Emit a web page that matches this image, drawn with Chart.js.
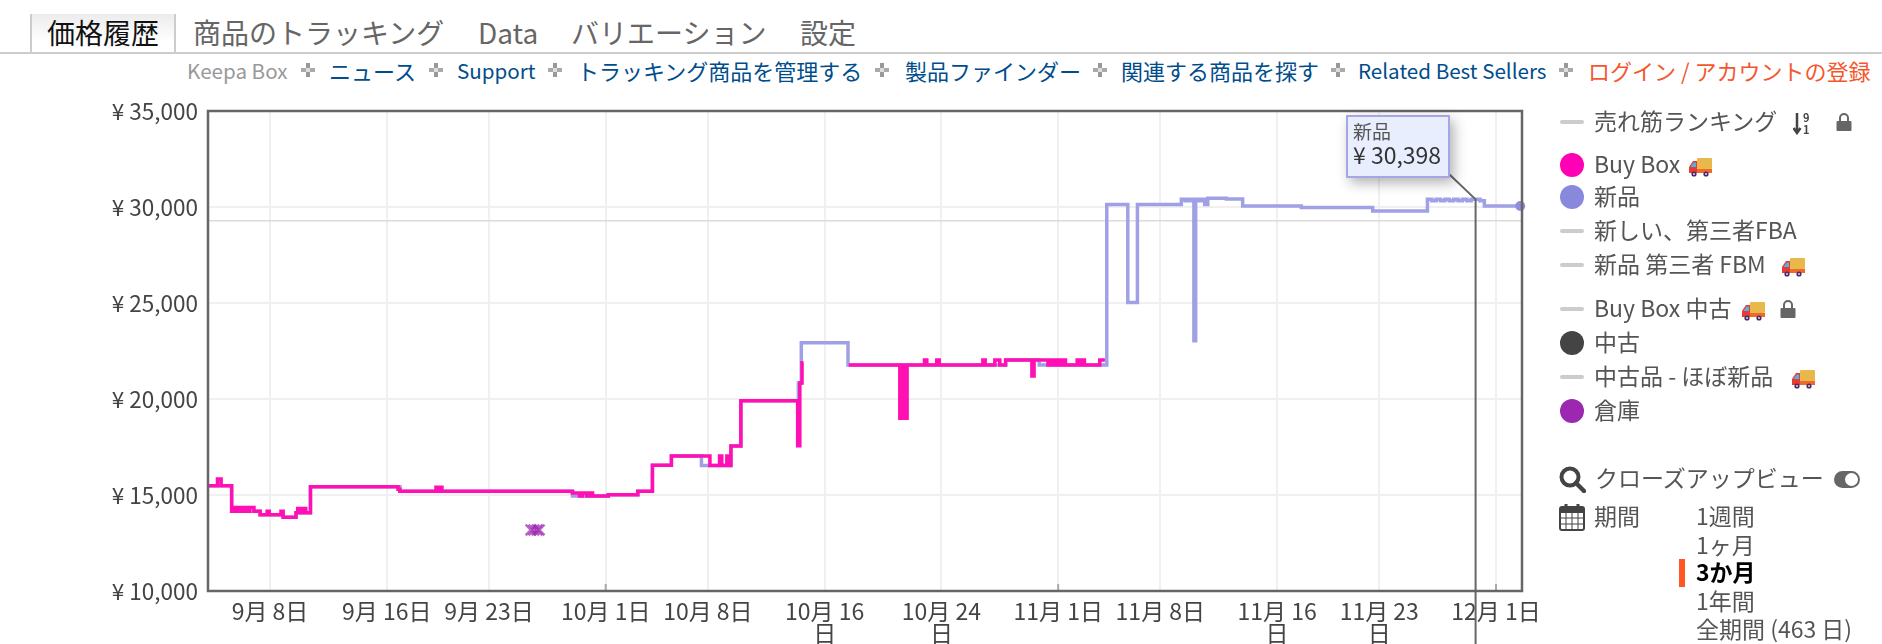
<!DOCTYPE html>
<html lang="ja">
<head>
<meta charset="utf-8">
<title>価格履歴</title>
<script src="https://cdn.jsdelivr.net/npm/chart.js@4"></script>
<style>
    html, body { margin: 0; padding: 0; background: #fff; overflow: hidden; }
    body { width: 1882px; height: 644px; position: relative; font-family: "Noto Sans CJK JP", "Noto Sans", sans-serif; color: #555; }
    canvas { position: absolute; left: 0; top: 0; }
    .t { position: absolute; transform: translateY(-50%); white-space: nowrap; line-height: 1.2; }
    .tab { font-size: 28px; color: #666; top: 33px; }
    .nav { font-size: 22px; color: #004d8c; top: 70px; }
    .latin { font-size: 20.6px; }
    .leg { font-size: 23px; color: #555; left: 1594px; }
    .per { font-size: 23px; color: #555; left: 1696px; }
    .line { position: absolute; background: #ccc; }
    .tabline { left: 0; right: 0; top: 52px; height: 2px; }
    .active { position: absolute; left: 30px; top: 14px; width: 146px; height: 40px; box-sizing: border-box;
        border: 2px solid #ccc; border-bottom: 0; border-top: 0; background: linear-gradient(#ececec, #fff 70%); }
    .dash { position: absolute; left: 1560px; width: 24px; height: 4px; background: #ccc; border-radius: 2px; }
    .dot { position: absolute; left: 1560px; width: 24px; height: 24px; border-radius: 50%; }
    .icon { position: absolute; }
    .tooltip { position: absolute; left: 1346px; top: 115px; width: 104px; height: 63px; box-sizing: border-box;
        background: #e8eefe; border: 2px solid #a6a6e6; box-shadow: 4px 5px 12px rgba(0,0,0,.3); }
    .toggle { position: absolute; left: 1834px; top: 471px; width: 26px; height: 17px; border-radius: 9px; background: #666; }
    .toggle i { position: absolute; right: 2px; top: 2px; width: 13px; height: 13px; border-radius: 50%; background: #fff; }
</style>
</head>
<body>
<svg width="0" height="0" style="position:absolute">
    <symbol id="sep" viewBox="0 0 14 14">
        <rect x="5" y="0" width="4" height="5" fill="#999"/><rect x="5" y="9" width="4" height="5" fill="#999"/>
        <rect x="0" y="5" width="5" height="4" fill="#aaa"/><rect x="9" y="5" width="5" height="4" fill="#aaa"/>
        <rect x="5" y="5" width="4" height="4" fill="#ddd"/>
    </symbol>
    <symbol id="truck" viewBox="0 0 24 20">
        <rect x="9" y="1" width="15" height="11" rx="1" fill="#e8b84a"/>
        <rect x="9" y="12" width="15" height="4" fill="#f0682c"/>
        <path d="M9 4H5L1 10v6h8z" fill="#e83a30"/>
        <path d="M8 5.500H5.500L2.500 10H8z" fill="#4db4ea"/>
        <circle cx="6" cy="17" r="2.600" fill="#4a2a6a"/><circle cx="18" cy="17" r="2.600" fill="#4a2a6a"/>
        <circle cx="6" cy="17" r="1" fill="#ddd"/><circle cx="18" cy="17" r="1" fill="#ddd"/>
    </symbol>
    <symbol id="lock" viewBox="0 0 16 18">
        <path d="M4 8V5a4 4 0 0 1 8 0v3" fill="none" stroke="#666" stroke-width="2"/>
        <rect x="0.500" y="8" width="15" height="10" rx="1" fill="#666"/>
    </symbol>
</svg>

<div class="active"></div>
<div class="line tabline"></div>
<span class="t tab" style="left:47px;color:#111">価格履歴</span>
<span class="t tab" style="left:193px">商品のトラッキング</span>
<span class="t tab" style="left:478px">Data</span>
<span class="t tab" style="left:571px">バリエーション</span>
<span class="t tab" style="left:800px">設定</span>

<span class="t nav latin" style="left:187px;color:#999">Keepa Box</span>
<svg class="icon" style="left:301px;top:63px" width="14" height="14"><use href="#sep"/></svg>
<span class="t nav" style="left:329px">ニュース</span>
<svg class="icon" style="left:429px;top:63px" width="14" height="14"><use href="#sep"/></svg>
<span class="t nav latin" style="left:457px">Support</span>
<svg class="icon" style="left:548px;top:63px" width="14" height="14"><use href="#sep"/></svg>
<span class="t nav" style="left:577px">トラッキング商品を管理する</span>
<svg class="icon" style="left:875px;top:63px" width="14" height="14"><use href="#sep"/></svg>
<span class="t nav" style="left:905px">製品ファインダー</span>
<svg class="icon" style="left:1093px;top:63px" width="14" height="14"><use href="#sep"/></svg>
<span class="t nav" style="left:1121px">関連する商品を探す</span>
<svg class="icon" style="left:1331px;top:63px" width="14" height="14"><use href="#sep"/></svg>
<span class="t nav latin" style="left:1358px">Related Best Sellers</span>
<svg class="icon" style="left:1559px;top:63px" width="14" height="14"><use href="#sep"/></svg>
<span class="t nav" style="left:1588px;color:#f4572e">ログイン / アカウントの登録</span>

<canvas id="chart" width="1882" height="644"></canvas>

<div class="tooltip"></div>
<span class="t" style="left:1353px;top:131px;font-size:19px;color:#555">新品</span>
<span class="t" style="left:1353px;top:155px;font-size:23px;color:#333">¥ 30,398</span>

<!-- 凡例 -->
<div class="dash" style="top:120px"></div>
<span class="t leg" style="top:121px">売れ筋ランキング</span>
<svg class="icon" style="left:1793px;top:112px" width="20" height="23" viewBox="0 0 20 23">
    <path d="M4 1V20M0.500 16L4 21L7.500 16" fill="none" stroke="#444" stroke-width="2.500"/>
    <text x="10" y="10" font-size="11" font-weight="bold" fill="#444">9</text>
    <text x="10" y="22" font-size="11" font-weight="bold" fill="#444">1</text>
</svg>
<svg class="icon" style="left:1836px;top:113px" width="16" height="18"><use href="#lock"/></svg>
<div class="dot" style="top:153px;background:#ff00b4"></div>
<span class="t leg" style="top:164px">Buy Box</span>
<svg class="icon" style="left:1688px;top:157px" width="24" height="20"><use href="#truck"/></svg>
<div class="dot" style="top:185px;background:#8888dd"></div>
<span class="t leg" style="top:196px">新品</span>
<div class="dash" style="top:229px"></div>
<span class="t leg" style="top:230px">新しい、第三者FBA</span>
<div class="dash" style="top:263px"></div>
<span class="t leg" style="top:264px">新品 第三者 FBM</span>
<svg class="icon" style="left:1781px;top:257px" width="24" height="20"><use href="#truck"/></svg>
<div class="dash" style="top:307px"></div>
<span class="t leg" style="top:308px">Buy Box 中古</span>
<svg class="icon" style="left:1741px;top:301px" width="24" height="20"><use href="#truck"/></svg>
<svg class="icon" style="left:1780px;top:300px" width="16" height="18"><use href="#lock"/></svg>
<div class="dot" style="top:331px;background:#444"></div>
<span class="t leg" style="top:342px">中古</span>
<div class="dash" style="top:375px"></div>
<span class="t leg" style="top:376px">中古品 - ほぼ新品</span>
<svg class="icon" style="left:1791px;top:369px" width="24" height="20"><use href="#truck"/></svg>
<div class="dot" style="top:399px;background:#9c27b0"></div>
<span class="t leg" style="top:410px">倉庫</span>

<svg class="icon" style="left:1559px;top:466px" width="27" height="27" viewBox="0 0 27 27">
    <circle cx="11" cy="11" r="8.500" fill="none" stroke="#444" stroke-width="4"/>
    <path d="M17 17L25 25" stroke="#444" stroke-width="4.500" stroke-linecap="round"/>
</svg>
<span class="t leg" style="top:478px;left:1595px">クローズアップビュー</span>
<div class="toggle"><i></i></div>
<svg class="icon" style="left:1559px;top:503px" width="26" height="28" viewBox="0 0 26 28">
    <rect x="1" y="4" width="24" height="23" rx="2" fill="none" stroke="#444" stroke-width="2"/>
    <rect x="1" y="4" width="24" height="6" fill="#444"/>
    <path d="M7 1V6M19 1V6" stroke="#444" stroke-width="3"/>
    <path d="M7 10V27M13 10V27M19 10V27M1 15H25M1 21H25" stroke="#444" stroke-width="1"/>
</svg>
<span class="t leg" style="top:516px">期間</span>
<span class="t per" style="top:516px">1週間</span>
<span class="t per" style="top:545px">1ヶ月</span>
<div style="position:absolute;left:1679px;top:559px;width:6px;height:28px;background:#ff5722"></div>
<span class="t per" style="top:572px;color:#000;font-weight:700">3か月</span>
<span class="t per" style="top:601px">1年間</span>
<span class="t per" style="top:629px">全期間 (463 日)</span>

<script>
// 横軸は 9月1日=1 とした通し日
const xMin = 3.75;
const xMax = 93.78;
const xTickDays = [8, 16, 23, 31, 38, 46, 54, 62, 69, 77, 84, 92];
const xTickLabels = ['9月 8日', '9月 16日', '9月 23日', '10月 1日', '10月 8日', ['10月 16', '日'], ['10月 24', '日'],
    '11月 1日', '11月 8日', ['11月 16', '日'], ['11月 23', '日'], '12月 1日'];
const monthStartDays = [31, 62, 92];

const priceTicks = [10000, 15000, 20000, 25000, 30000, 35000];
const priceTickLabels = ['¥ 10,000', '¥ 15,000', '¥ 20,000', '¥ 25,000', '¥ 30,000', '¥ 35,000'];

// Buy Box
const buyBoxDays = [3.75, 4.4, 4.65, 5.37, 5.6, 5.75, 5.95, 6.1, 6.3, 6.45, 6.6, 6.9, 7.32, 7.8, 7.95, 8.75, 8.9, 9.78, 9.9, 10.1, 10.3, 10.45, 10.77,
    16.77, 16.9, 19.37, 19.5, 19.65, 19.78, 28.72, 29.2, 29.4, 29.7, 29.9, 30.1, 30.33, 31.18, 33.2, 34.2, 35.5, 38.14, 38.8, 38.95, 39.3, 39.45, 39.58, 40.26,
    44.15, 44.3, 44.45, 44.55, 44.6,
    47.65, 51.15, 51.25, 51.35, 51.45, 51.55, 51.65, 52.84, 53, 53.68, 53.85, 56.84, 57, 57.66, 58, 58.4, 60.2, 60.35,
    61.3, 61.45, 61.6, 61.75, 61.9, 62.05, 62.2, 62.35, 62.5, 62.75,
    63.3, 63.45, 63.6, 63.8, 64.85, 65.2];
const buyBoxPrices = [15480, 15830, 15480, 14150, 14350, 14150, 14350, 14150, 14350, 14150, 14350, 14150, 13975, 14150, 13975, 14150, 13835, 14080, 14300, 14080, 14300, 14080, 15430,
    15300, 15190, 15400, 15190, 15400, 15190, 15100, 14950, 15100, 14950, 15100, 14950, 14950, 15010, 15190, 16545, 17030, 16530, 17030, 16530, 17030, 16530, 17550, 19910,
    17570, 20830, 21890, 21890, null,
    21770, 19000, 21770, 19000, 21770, 19000, 21770, 22030, 21770, 22030, 21770, 22030, 21770, 22030, 21770, 22030, 21200, 22030,
    21770, 22030, 21770, 22030, 21770, 22030, 21770, 22030, 21770, 21770,
    22030, 21770, 22030, 21770, 22030, 22030];

// 新品
const newDays = [3.75, 5.37, 7.32, 8.9, 9.78, 10.77, 16.9, 28.72, 31.18, 33.2, 34.2, 35.5, 37.56, 39.58, 40.26, 44.2, 44.4, 47.6, 58.4, 60.7,
    65.33, 66.77, 67.43, 70.44, 70.7, 70.95, 71.2, 71.3, 71.42, 71.6, 71.8, 72.04, 72.25, 73.53, 74.64, 78.66, 83.55,
    87.3, 87.6, 87.9, 88.2, 88.5, 88.8, 89.1, 89.4, 89.7, 90, 90.3, 90.6, 90.9, 91.2, 93.66];
const newPrices = [15480, 14150, 13975, 13835, 14080, 15430, 15190, 14950, 15010, 15190, 16545, 17030, 16530, 17550, 19910, 20830, 22930, 21770, 22030, 21770,
    30130, 25030, 30130, 30400, 30330, 30400, 30330, 23035, 30400, 30330, 30400, 30130, 30450, 30420, 30050, 29980, 29790,
    30398, 30330, 30398, 30330, 30398, 30330, 30398, 30330, 30398, 30330, 30398, 30398, 30330, 30050, 30050];

// 倉庫
const warehouseDays = [25.88, 26.08, 26.3, 26.44];
const warehousePrices = [13180, 13180, 13180, 13180];

// 参考線
const referenceDays = [xMin, xMax];
const referencePrices = [29290, 29290];

// 吹き出しの値
const hoverDay = 90.6;
const hoverPrice = 30398;

const zip = (days, prices) => days.map((d, i) => ({ x: d, y: prices[i] }));

// 外枠、月初の目盛り、吹き出しの線
const framePlugin = {
    id: 'frame',
    afterDraw(chart) {
        const { ctx, chartArea: a, scales } = chart;
        ctx.save();

        ctx.strokeStyle = '#aaa';
        ctx.lineWidth = 2;
        monthStartDays.forEach(d => {
            const x = scales.x.getPixelForValue(d);
            ctx.beginPath();
            ctx.moveTo(x, a.bottom - 7);
            ctx.lineTo(x, a.bottom);
            ctx.stroke();
        });

        ctx.strokeStyle = '#666';
        ctx.lineWidth = 2.5;
        ctx.strokeRect(a.left, a.top, a.right - a.left, a.bottom - a.top);

        const hx = scales.x.getPixelForValue(hoverDay);
        const hy = scales.y.getPixelForValue(hoverPrice);
        ctx.strokeStyle = '#666';
        ctx.lineWidth = 2;
        ctx.beginPath();
        ctx.moveTo(1449, 174);
        ctx.lineTo(hx, hy);
        ctx.lineTo(hx, chart.height);
        ctx.stroke();
        ctx.restore();
    }
};

Chart.defaults.font.family = '"Noto Sans CJK JP", "Noto Sans", sans-serif';

new Chart(document.getElementById('chart'), {
    type: 'line',
    data: {
        datasets: [
            {
                label: '倉庫',
                data: zip(warehouseDays, warehousePrices),
                showLine: false,
                pointStyle: 'crossRot',
                pointRadius: 7.5,
                pointBorderColor: 'rgba(156, 39, 176, 0.7)',
                pointBorderWidth: 2.5
            },
            {
                label: 'Buy Box',
                data: zip(buyBoxDays, buyBoxPrices),
                stepped: true,
                borderColor: '#ff0fb4',
                borderWidth: 3.5,
                pointRadius: 0
            },
            {
                label: '新品',
                data: zip(newDays, newPrices),
                stepped: true,
                borderColor: '#a0a0e6',
                borderWidth: 3.5,
                pointBackgroundColor: '#8f8fe0',
                pointBorderWidth: 0,
                pointRadius: ctx => ctx.dataIndex === newDays.length - 1 ? 5 : 0
            },
            {
                label: '参考線',
                data: zip(referenceDays, referencePrices),
                borderColor: '#dcdcdc',
                borderWidth: 1.5,
                pointRadius: 0
            }
        ]
    },
    options: {
        responsive: false,
        animation: false,
        clip: false,
        layout: { padding: { top: 111, right: 360, bottom: 0, left: 0 } },
        plugins: { legend: { display: false }, tooltip: { enabled: false } },
        events: [],
        scales: {
            x: {
                type: 'linear',
                min: xMin,
                max: xMax,
                afterBuildTicks: scale => { scale.ticks = xTickDays.map(v => ({ value: v })); },
                afterFit: scale => { scale.height = 53; },
                grid: { color: '#f0f0f0', lineWidth: 2, drawTicks: false },
                border: { display: false },
                ticks: {
                    autoSkip: false,
                    maxRotation: 0,
                    padding: 9,
                    color: '#444',
                    font: { size: 23, lineHeight: 0.95 },
                    callback: (value, i) => xTickLabels[i]
                }
            },
            y: {
                min: 10000,
                max: 35000,
                afterBuildTicks: scale => { scale.ticks = priceTicks.map(v => ({ value: v })); },
                afterFit: scale => { scale.width = 208; },
                grid: { color: '#f0f0f0', lineWidth: 2, drawTicks: false },
                border: { display: false },
                ticks: {
                    padding: 10,
                    color: '#444',
                    font: { size: 22.5 },
                    callback: (value, i) => priceTickLabels[i]
                }
            }
        }
    },
    plugins: [framePlugin]
});
</script>
</body>
</html>
